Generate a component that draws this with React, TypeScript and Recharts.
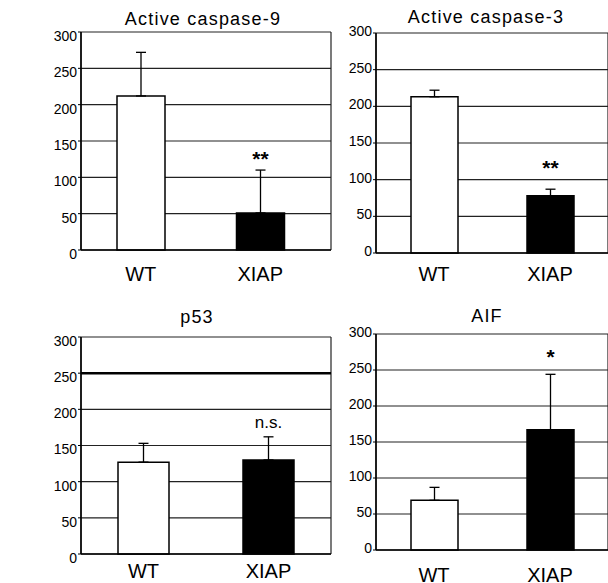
import { BarChart, Bar, XAxis, YAxis, CartesianGrid, ErrorBar, Cell, LabelList, ReferenceLine } from 'recharts';

const groups = ['WT', 'XIAP'];
const barFills = ['#ffffff', '#000000'];
const yTicks = [0, 50, 100, 150, 200, 250, 300];

const casp9Mean = [212, 51];
const casp9Err = [60, 59];
const casp9Sig = ['', '**'];

const casp3Mean = [213, 78];
const casp3Err = [9, 9];
const casp3Sig = ['', '**'];

const p53Mean = [127, 130];
const p53Err = [26, 32];
const p53Sig = ['', 'n.s.'];

const aifMean = [69, 167];
const aifErr = [18, 77];
const aifSig = ['', '*'];

const FONT = 'Arial, "Liberation Sans", Helvetica, sans-serif';

type Box = { l: number; t: number; r: number; b: number };

type PanelProps = {
  title: string;
  mean: number[];
  err: number[];
  sig: string[];
  plot: Box;
  barSize: number;
  tickDy: number;
  xTickMargin: number;
  padRight: number;
  titleX: number;
  titleBase: number;
  sigGap: number;
  heavy250?: boolean;
};

const Y_W = 60;
const TOP_M = 12;
const X_H = 40;

function Panel(p: PanelProps) {
  const data = groups.map((g, i) => ({ name: g, mean: p.mean[i], err: [0, p.err[i]], sig: p.sig[i] }));
  const w = p.plot.r - p.plot.l + Y_W + 2;
  const h = p.plot.b - p.plot.t + TOP_M + X_H;

  // significance mark sits just above the top of the error bar
  const renderSig = (props: any) => {
    const { x, y, width, height, index, value } = props;
    if (!value) return null;
    const d = data[index];
    const pxPerUnit = height / d.mean;
    const errTop = y - d.err[1] * pxPerUnit;
    const isStar = String(value).startsWith('*');
    return (
      <text
        x={x + width / 2}
        y={errTop - p.sigGap}
        textAnchor="middle"
        fontFamily={FONT}
        fontSize={isStar ? 21 : 17}
        fontWeight={isStar ? 'bold' : 'normal'}
        fill="#000"
      >
        {value}
      </text>
    );
  };

  return (
    <>
      <div
        style={{
          position: 'absolute',
          left: p.titleX - 120,
          width: 240,
          top: p.titleBase - 15,
          lineHeight: '18px',
          fontSize: 18,
          letterSpacing: 1.2,
          textAlign: 'center',
          fontFamily: FONT,
          color: '#000',
        }}
      >
        {p.title}
      </div>
      <div style={{ position: 'absolute', left: p.plot.l - Y_W, top: p.plot.t - TOP_M }}>
        <BarChart
          width={w}
          height={h}
          data={data}
          margin={{ top: TOP_M, right: 1, bottom: 0, left: 0 }}
          barCategoryGap={0}
        >
          <CartesianGrid
            stroke="#222"
            strokeWidth={1.2}
            verticalCoordinatesGenerator={({ offset }: any) => [offset.left, offset.left + offset.width]}
          />
          <XAxis
            dataKey="name"
            height={X_H}
            tickSize={0}
            tickMargin={p.xTickMargin}
            axisLine={{ stroke: '#000', strokeWidth: 1.5 }}
            tick={{ fill: '#000', fontSize: 20, fontFamily: FONT }}
            padding={{ left: 0, right: p.padRight }}
          />
          <YAxis
            width={Y_W}
            domain={[0, 300]}
            ticks={yTicks}
            interval={0}
            tickSize={3}
            tickMargin={1}
            axisLine={{ stroke: '#000', strokeWidth: 1.5 }}
            tickLine={{ stroke: '#000' }}
            tick={{ fill: '#000', fontSize: 14, fontFamily: FONT, dy: p.tickDy }}
          />
          {p.heavy250 && <ReferenceLine y={250} stroke="#000" strokeWidth={2.5} />}
          <Bar dataKey="mean" barSize={p.barSize} stroke="#000" strokeWidth={1.5} isAnimationActive={false}>
            {data.map((d, i) => (
              <Cell key={d.name} fill={barFills[i]} />
            ))}
            <ErrorBar dataKey="err" width={5} stroke="#000" strokeWidth={1.3} isAnimationActive={false} />
            <LabelList dataKey="sig" content={renderSig} />
          </Bar>
        </BarChart>
      </div>
    </>
  );
}

export default function App() {
  return (
    <div
      style={{
        position: 'absolute',
        left: 0,
        top: 0,
        width: 608,
        height: 583,
        background: '#fff',
        overflow: 'hidden',
        fontFamily: FONT,
      }}
    >
      <Panel
        title="Active caspase-9"
        mean={casp9Mean}
        err={casp9Err}
        sig={casp9Sig}
        plot={{ l: 81, t: 32, r: 330, b: 250 }}
        barSize={48}
        tickDy={4}
        xTickMargin={17}
        padRight={11}
        titleX={203}
        titleBase={25}
        sigGap={4}
      />
      <Panel
        title="Active caspase-3"
        mean={casp3Mean}
        err={casp3Err}
        sig={casp3Sig}
        plot={{ l: 376, t: 33, r: 607, b: 253 }}
        barSize={47}
        tickDy={-2}
        xTickMargin={14}
        padRight={0}
        titleX={486}
        titleBase={23}
        sigGap={14}
      />
      <Panel
        title="p53"
        mean={p53Mean}
        err={p53Err}
        sig={p53Sig}
        plot={{ l: 81, t: 337, r: 330, b: 554 }}
        barSize={51}
        tickDy={4}
        xTickMargin={10}
        padRight={0}
        titleX={197}
        titleBase={323}
        sigGap={9}
        heavy250
      />
      <Panel
        title="AIF"
        mean={aifMean}
        err={aifErr}
        sig={aifSig}
        plot={{ l: 376, t: 334, r: 607, b: 550 }}
        barSize={47}
        tickDy={-2}
        xTickMargin={18}
        padRight={0}
        titleX={487}
        titleBase={322}
        sigGap={10}
      />
    </div>
  );
}
